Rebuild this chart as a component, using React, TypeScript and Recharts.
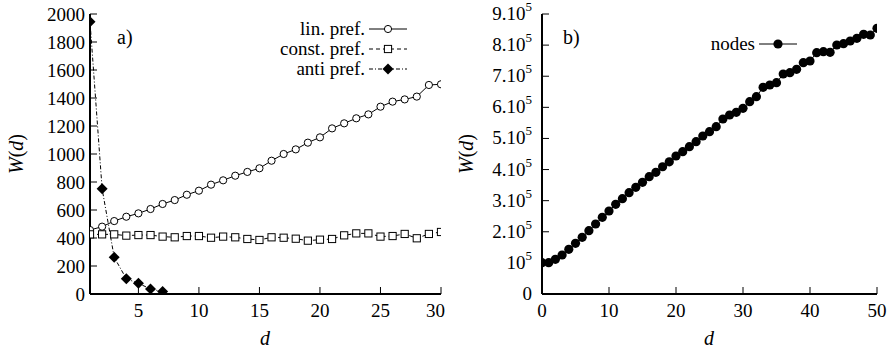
import React from 'react';
import { LineChart, Line, XAxis, YAxis, Legend, Label } from 'recharts';

// panel a) : W(d) versus degree d for three attachment rules
const degreeA = [1, 2, 3, 4, 5, 6, 7, 8, 9, 10, 11, 12, 13, 14, 15, 16, 17, 18, 19, 20, 21, 22, 23, 24, 25, 26, 27, 28, 29, 30];
const linPref = [457, 481, 521, 552, 576, 607, 643, 671, 709, 738, 781, 812, 845, 872, 898, 952, 1000, 1033, 1081, 1119, 1183, 1219, 1255, 1283, 1338, 1374, 1390, 1410, 1493, 1498];
const constPref = [426, 426, 426, 417, 421, 421, 410, 405, 414, 414, 402, 410, 405, 393, 386, 405, 402, 395, 381, 388, 393, 419, 433, 433, 410, 414, 429, 398, 429, 443];
const antiPref = [1945, 752, 262, 109, 76, 36, 17];
const ticksAX = [5, 10, 15, 20, 25, 30];
const ticksAY = [0, 200, 400, 600, 800, 1000, 1200, 1400, 1600, 1800, 2000];

// panel b) : W(d) of nodes
const degreeB = [0, 1, 2, 3, 4, 5, 6, 7, 8, 9, 10, 11, 12, 13, 14, 15, 16, 17, 18, 19, 20, 21, 22, 23, 24, 25, 26, 27, 28, 29, 30, 31, 32, 33, 34, 35, 36, 37, 38, 39, 40, 41, 42, 43, 44, 45, 46, 47, 48, 49, 50];
const nodes = [100600, 100600, 111500, 125400, 143600, 163000, 182200, 203500, 225000, 246500, 266800, 288300, 306400, 325700, 343000, 359000, 377000, 391000, 409000, 425000, 443600, 457500, 473500, 489500, 507800, 521700, 537800, 562500, 575400, 584000, 596800, 618100, 634200, 664200, 671800, 679200, 707100, 711400, 722100, 743600, 749000, 775600, 778900, 776700, 800400, 804600, 813200, 821800, 834700, 832500, 854000];
const ticksBX = [0, 10, 20, 30, 40, 50];
const ticksBY = [0, 100000, 200000, 300000, 400000, 500000, 600000, 700000, 800000, 900000];

const dataA = degreeA.map((d, i) => ({
  d,
  lin: linPref[i],
  cst: constPref[i],
  anti: i < antiPref.length ? antiPref[i] : null,
}));
const dataB = degreeB.map((d, i) => ({ d, nodes: nodes[i] }));

const font = "'Liberation Serif', 'Times New Roman', Times, 'DejaVu Serif', serif";
const tickFont = { fontFamily: font, fontSize: 19, fill: '#000' };
const axisLine = { stroke: '#000', strokeWidth: 2 };
const tickLine = { stroke: '#000', strokeWidth: 1 };

const OpenCircle = (p: any) =>
  p.cy == null ? <g key={p.index} /> : <circle key={p.index} cx={p.cx} cy={p.cy} r={3.6} fill="#fff" stroke="#000" strokeWidth={1} />;
const OpenSquare = (p: any) =>
  p.cy == null ? <g key={p.index} /> : <rect key={p.index} x={p.cx - 3.6} y={p.cy - 3.6} width={7.2} height={7.2} fill="#fff" stroke="#000" strokeWidth={1} />;
const Diamond = (p: any) =>
  p.cy == null ? (
    <g key={p.index} />
  ) : (
    <path key={p.index} d={`M${p.cx},${p.cy - 5.5}L${p.cx + 5.5},${p.cy}L${p.cx},${p.cy + 5.5}L${p.cx - 5.5},${p.cy}Z`} fill="#000" />
  );
const Dot = (p: any) =>
  p.cy == null ? <g key={p.index} /> : <circle key={p.index} cx={p.cx} cy={p.cy} r={4.6} fill="#000" />;

const PowTick = (props: any) => {
  const { x, y, payload } = props;
  const v = Math.round(payload.value / 100000);
  return (
    <text x={x} y={y} textAnchor="end" dy={6} style={{ fontFamily: font }} fontSize={19} fill="#000">
      {v === 0 ? '0' : v === 1 ? '10' : `${v}.10`}
      {v !== 0 && (
        <tspan dy={-9} fontSize={13}>
          5
        </tspan>
      )}
    </text>
  );
};

const WLabel = (cx: number) => () => {
  const cy = 154;
  return (
    <text x={cx} y={cy} transform={`rotate(-90 ${cx} ${cy})`} textAnchor="middle" dy={7} style={{ fontFamily: font }} fontSize={20} fill="#000">
      <tspan fontStyle="italic">W</tspan>
      <tspan>(</tspan>
      <tspan fontStyle="italic">d</tspan>
      <tspan>)</tspan>
    </text>
  );
};

const DLabel = (cx: number) => () => (
  <text x={cx} y={345} textAnchor="middle" style={{ fontFamily: font }} fontSize={20} fontStyle="italic" fill="#000">
    d
  </text>
);

type Item = { name: string; dash?: string; marker: (cx: number, cy: number) => React.ReactNode };

const legendA: Item[] = [
  { name: 'lin. pref.', marker: (x, y) => <circle cx={x} cy={y} r={3.6} fill="#fff" stroke="#000" /> },
  { name: 'const. pref.', dash: '4 3', marker: (x, y) => <rect x={x - 3.6} y={y - 3.6} width={7.2} height={7.2} fill="#fff" stroke="#000" /> },
  { name: 'anti pref.', dash: '4 2 1 2', marker: (x, y) => <path d={`M${x},${y - 5.5}L${x + 5.5},${y}L${x},${y + 5.5}L${x - 5.5},${y}Z`} fill="#000" /> },
];
const legendB: Item[] = [{ name: 'nodes', marker: (x, y) => <circle cx={x} cy={y} r={4.6} fill="#000" /> }];

const legendContent = (items: Item[], textWidth: number) => () => (
  <div style={{ fontFamily: font, fontSize: 19, color: '#000' }}>
    {items.map((it) => (
      <div key={it.name} style={{ display: 'flex', alignItems: 'center', height: 20 }}>
        <span style={{ width: textWidth, textAlign: 'right', lineHeight: '20px', whiteSpace: 'nowrap' }}>{it.name}</span>
        <svg width={42} height={20} style={{ marginLeft: 4 }}>
          <line x1={0} y1={10} x2={38} y2={10} stroke="#000" strokeWidth={1} strokeDasharray={it.dash} />
          {it.marker(19, 10)}
        </svg>
      </div>
    ))}
  </div>
);

const PanelLabel = ({ x, text }: { x: number; text: string }) => (
  <div style={{ position: 'absolute', left: x, top: 25, fontFamily: font, fontSize: 20, color: '#000', lineHeight: '24px' }}>{text}</div>
);

export default function App() {
  return (
    <div style={{ position: 'absolute', left: 0, top: 0, width: 891, height: 351, background: '#fff', fontFamily: font }}>
      <div style={{ position: 'absolute', left: 0, top: 0 }}>
        <LineChart width={445} height={351} data={dataA} margin={{ top: 14, right: 4, bottom: 27, left: 0 }} style={{ fontFamily: font }}>
          <XAxis dataKey="d" type="number" domain={[1, 30]} ticks={ticksAX} tickSize={-7} tickMargin={17} axisLine={axisLine} tickLine={tickLine} tick={tickFont} height={30} allowDataOverflow>
            <Label content={DLabel(265)} />
          </XAxis>
          <XAxis xAxisId="top" orientation="top" dataKey="d" type="number" domain={[1, 30]} ticks={ticksAX} tickSize={-7} axisLine={axisLine} tickLine={tickLine} tick={false} height={0} allowDataOverflow />
          <YAxis type="number" domain={[0, 2000]} ticks={ticksAY} tickSize={-7} tickMargin={12} axisLine={axisLine} tickLine={tickLine} tick={tickFont} width={90} allowDataOverflow>
            <Label content={WLabel(16)} />
          </YAxis>
          <YAxis yAxisId="right" orientation="right" type="number" domain={[0, 2000]} ticks={ticksAY} tickSize={-7} axisLine={axisLine} tickLine={tickLine} tick={false} width={0} allowDataOverflow />
          <Legend layout="vertical" align="center" verticalAlign="middle" content={legendContent(legendA, 115)} wrapperStyle={{ position: 'absolute', top: 19, left: 250, width: 170, height: 60 }} />
          <Line dataKey="lin" stroke="#000" strokeWidth={1} dot={OpenCircle} isAnimationActive={false} />
          <Line dataKey="cst" stroke="#000" strokeWidth={1} strokeDasharray="4 3" dot={OpenSquare} isAnimationActive={false} />
          <Line dataKey="anti" stroke="#000" strokeWidth={1} strokeDasharray="4 2 1 2" dot={Diamond} isAnimationActive={false} />
        </LineChart>
        <PanelLabel x={117} text="a)" />
      </div>
      <div style={{ position: 'absolute', left: 445, top: 0 }}>
        <LineChart width={445} height={351} data={dataB} margin={{ top: 14, right: 13, bottom: 27, left: 0 }} style={{ fontFamily: font }}>
          <XAxis dataKey="d" type="number" domain={[0, 50]} ticks={ticksBX} tickSize={-7} tickMargin={17} axisLine={axisLine} tickLine={tickLine} tick={tickFont} height={30} allowDataOverflow>
            <Label content={DLabel(264)} />
          </XAxis>
          <XAxis xAxisId="top" orientation="top" dataKey="d" type="number" domain={[0, 50]} ticks={ticksBX} tickSize={-7} axisLine={axisLine} tickLine={tickLine} tick={false} height={0} allowDataOverflow />
          <YAxis type="number" domain={[0, 900000]} ticks={ticksBY} tickSize={-7} tickMargin={17} axisLine={axisLine} tickLine={tickLine} tick={<PowTick />} width={97} allowDataOverflow>
            <Label content={WLabel(21)} />
          </YAxis>
          <YAxis yAxisId="right" orientation="right" type="number" domain={[0, 900000]} ticks={ticksBY} tickSize={-7} axisLine={axisLine} tickLine={tickLine} tick={false} width={0} allowDataOverflow />
          <Legend layout="vertical" align="center" verticalAlign="middle" content={legendContent(legendB, 60)} wrapperStyle={{ position: 'absolute', top: 34, left: 250, width: 110, height: 20 }} />
          <Line dataKey="nodes" stroke="#000" strokeWidth={1} dot={Dot} isAnimationActive={false} />
        </LineChart>
        <PanelLabel x={118} text="b)" />
      </div>
    </div>
  );
}
